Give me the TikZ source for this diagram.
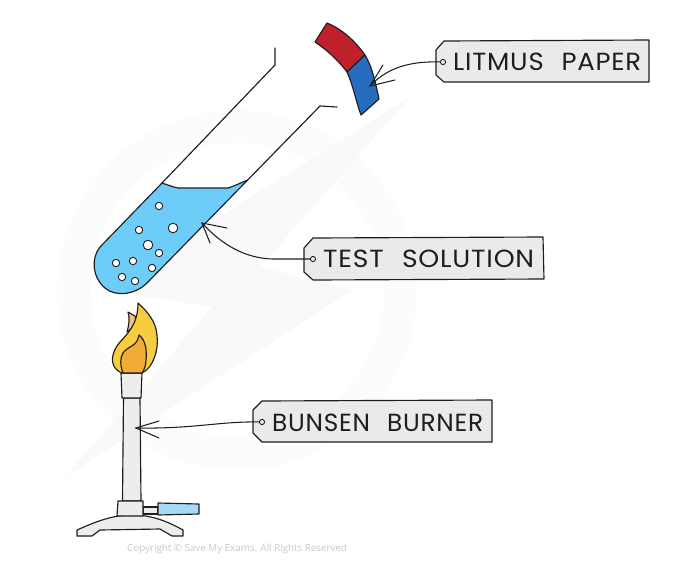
\documentclass[tikz,border=0pt]{standalone}
\usepackage{fontspec}
\usepackage{graphicx}
\setmainfont{Open Sans}
\newfontfamily\tagfont[LetterSpace=3]{Poppins}
\definecolor{tagfill}{HTML}{E9EAEB}
\definecolor{ink}{HTML}{1E1E1E}
\definecolor{waterring}{HTML}{FBFCFD}
\definecolor{waterbolt}{HTML}{F9F9FA}
\newcommand{\tagword}[2]{\resizebox{#1pt}{17.5pt}{\tagfont\fontsize{23}{26}\selectfont #2}}
\tikzset{
 outline/.style={draw=ink,line width=1.15pt,line join=round,line cap=round},
 tagshape/.style={outline,fill=tagfill},
 tagtext/.style={text=ink,anchor=west,inner sep=0pt},
 holemark/.style={outline,fill=tagfill,line width=0.9pt},
 leader/.style={draw=ink,line width=1.05pt,line cap=round},
 bubble/.style={outline,fill=white,line width=0.9pt},
 metal/.style={outline,fill=black!7}
}
\begin{document}
\begin{tikzpicture}[x=1pt,y=-1pt]
\useasboundingbox (0,0) rectangle (688,568);
% watermark
\fill[waterring,even odd rule] (237,290) circle (180) (237,290) circle (147);
\fill[waterbolt] (410,97) -- (260,267) -- (352,290) -- (65,477) -- (212,307) -- (103,290) -- cycle;
% tube
\path[fill={rgb,255:red,110;green,205;blue,248}] (162,183) .. controls (168,185) and (173,187) .. (178,188) -- (228,188) .. controls (235,186) and (242,182) .. (248,180) -- (147,283) .. controls (135,295) and (115,297) .. (105,288) .. controls (92,277) and (91,258) .. (100,247) -- cycle;
\draw[outline] (275,48) -- (275,65) -- (162,183) -- (100,247) .. controls (91,258) and (92,277) .. (105,288) .. controls (115,297) and (135,295) .. (147,283) -- (320,106) -- (337,107);
\draw[outline] (162,183) .. controls (168,185) and (173,187) .. (178,188) -- (228,188) .. controls (235,186) and (242,182) .. (248,180);
\draw[bubble] (159,206) circle (3.7);
\draw[bubble] (139,230) circle (3.7);
\draw[bubble] (173,228) circle (4.8);
\draw[bubble] (148,245) circle (4.8);
\draw[bubble] (159,253) circle (3.7);
\draw[bubble] (133,261) circle (3.7);
\draw[bubble] (116,263) circle (3.7);
\draw[bubble] (152,268) circle (3.7);
\draw[bubble] (122,277) circle (3.7);
\draw[bubble] (135,281) circle (3.7);
% litmus
\draw[outline,fill={rgb,255:red,192;green,32;blue,44}] (327,23) .. controls (342,29) and (355,41) .. (365,55) -- (347,72) .. controls (338,60) and (327,50) .. (315,42) -- cycle;
\draw[outline,fill={rgb,255:red,40;green,108;blue,190}] (365,55) .. controls (372,66) and (376,85) .. (379,99) -- (361,115) .. controls (357,105) and (353,85) .. (347,72) -- cycle;
% tags
\draw[tagshape] (436,50) -- (444,41) -- (649,40) -- (649,82) -- (444,82) -- (436,75) -- cycle;
\node[tagtext] (litmustext) at (453,61.5) {\tagword{188}{LITMUS\hspace{9pt} PAPER}};
\draw[tagshape] (304,248) -- (313,238) -- (543,237) -- (544,279) -- (313,280) -- (304,272) -- cycle;
\node[tagtext] (testtext) at (323,259) {\tagword{211}{TEST\hspace{9pt} SOLUTION}};
\draw[tagshape] (253,410) -- (262,401) -- (492,400) -- (492,442) -- (262,442) -- (253,433) -- cycle;
\node[tagtext] (bunsentext) at (272,422.5) {\tagword{211}{BUNSEN\hspace{9pt} BURNER}};
% burner
\draw[metal] (77,530) .. controls (95,522) and (112,515) .. (132,515) .. controls (150,515) and (165,520) .. (183,530) -- (183,536) -- (172,536) -- (160,529) -- (100,530) -- (92,536) -- (77,536) -- cycle;
\draw[metal] (123.5,398) -- (140,398) -- (141,501) -- (122.5,501) -- cycle;
\draw[metal] (143,507) -- (158,507) -- (158,514) -- (143,514) -- cycle;
\draw[outline,fill={rgb,255:red,165;green,218;blue,245}] (158,503) -- (199,504) -- (199,514) -- (158,515) -- cycle;
\draw[metal] (118,501) -- (143,501) -- (143,516) -- (117,516) -- cycle;
\draw[metal] (121,373) -- (142,373) -- (141,398) -- (122,398) -- cycle;
% flame
\draw[outline,fill={rgb,255:red,243;green,196;blue,128}] (128,312) -- (135,316) -- (137,325) -- (127,332) .. controls (129,325) and (130,318) .. (128,312) -- cycle;
\draw[outline,fill={rgb,255:red,246;green,205;blue,62}] (138,303) .. controls (148,312) and (156,322) .. (157,335) .. controls (159,350) and (153,368) .. (142,373) -- (122,373) .. controls (114,370) and (110,362) .. (114,352) .. controls (117,343) and (125,338) .. (130,330) .. controls (136,322) and (138,312) .. (138,303) -- cycle;
\draw[outline,fill={rgb,255:red,240;green,172;blue,55}] (139,335) .. controls (146,340) and (147,352) .. (146,360) .. controls (146,366) and (144,370) .. (142,373) -- (123,373) .. controls (120,365) and (120,358) .. (123,353) .. controls (129,345) and (137,347) .. (139,335) -- cycle;
% connectors
\coordinate (litmushole) at (443,62);
\coordinate (litmustip) at (370,86);
\coordinate (testhole) at (313,259);
\coordinate (testtip) at (202,223);
\coordinate (bunsenhole) at (262,422);
\coordinate (bunsentip) at (136,428);
\draw[leader] (litmushole) .. controls (415,61) and (390,65) .. (litmustip);
\draw[leader] (383,65) -- (litmustip) -- (395,80);
\draw[leader] (testhole) -- (272,259) .. controls (245,258) and (222,245) .. (testtip);
\draw[leader] (227,228) -- (testtip) -- (210,243);
\draw[leader] (bunsenhole) .. controls (220,421) and (195,429) .. (bunsentip);
\draw[leader] (159,421) -- (bunsentip) -- (159,438);
\draw[holemark] (litmushole) circle (2.6);
\draw[holemark] (testhole) circle (2.6);
\draw[holemark] (bunsenhole) circle (2.6);
\node[font=\fontsize{9.8}{11}\selectfont,text=black!22,anchor=west,inner sep=0pt] (copy) at (127,549) {Copyright © Save My Exams. All Rights Reserved};
\end{tikzpicture}
\end{document}
